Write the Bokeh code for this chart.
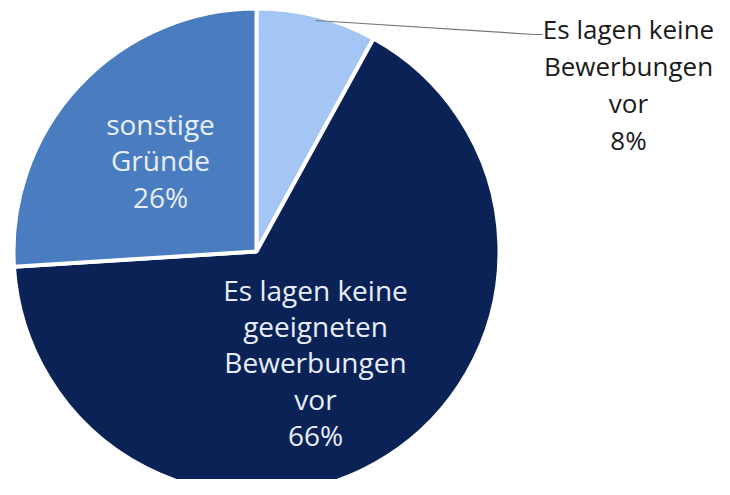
import numpy as np
from bokeh.plotting import figure
from bokeh.models import Range1d
from bokeh.core.properties import value
from bokeh.embed import file_html
from bokeh.resources import INLINE

# Data
categories = ["Es lagen keine\nBewerbungen\nvor", "Es lagen keine\ngeeigneten\nBewerbungen\nvor", "sonstige\nGründe"]
shares = [8, 66, 26]
colors = ["#a3c6f5", "#0b2257", "#4a7dbf"]

W, H = 714, 479
p = figure(width=W, height=H, output_backend="svg", toolbar_location=None,
           x_range=Range1d(0, W), y_range=Range1d(495 - H, 495),
           min_border=0)
p.axis.visible = False
p.grid.visible = False
p.outline_line_color = None
p.background_fill_color = "white"

cx, cy, r = 256, 495 - 251, 243
vals = np.array(shares, dtype=float)
frac = vals / vals.sum()
ends = np.pi / 2 - 2 * np.pi * np.cumsum(frac)
starts = np.concatenate([[np.pi / 2], ends[:-1]])

p.wedge(x=cx, y=cy, radius=r, start_angle=ends, end_angle=starts,
        fill_color=colors, line_color="white", line_width=4)

font = value("Open Sans")
fs = "28px"
lh = 0.95
# Inside labels
labels = [f"{c}\n{s}%" for c, s in zip(categories, shares)]
p.text(x=[315], y=[495 - 362], text=[labels[1]], text_align="center",
       text_baseline="middle", text_color="#e8eef8", text_font=font,
       text_font_size=fs, text_line_height=lh)
p.text(x=[160], y=[495 - 160], text=[labels[2]], text_align="center",
       text_baseline="middle", text_color="#e8eef8", text_font=font,
       text_font_size=fs, text_line_height=lh)
# Outside label
p.text(x=[628], y=[495 - 84], text=[labels[0]], text_align="center",
       text_baseline="middle", text_color="#1a1a1a", text_font=font,
       text_font_size="26px", text_line_height=1.02)
# Leader line
p.line(x=[315, 534, 542], y=[495 - 20, 495 - 34, 495 - 34], line_color="#777777", line_width=1.2)

open("out.html", "w").write(file_html(p, INLINE))
